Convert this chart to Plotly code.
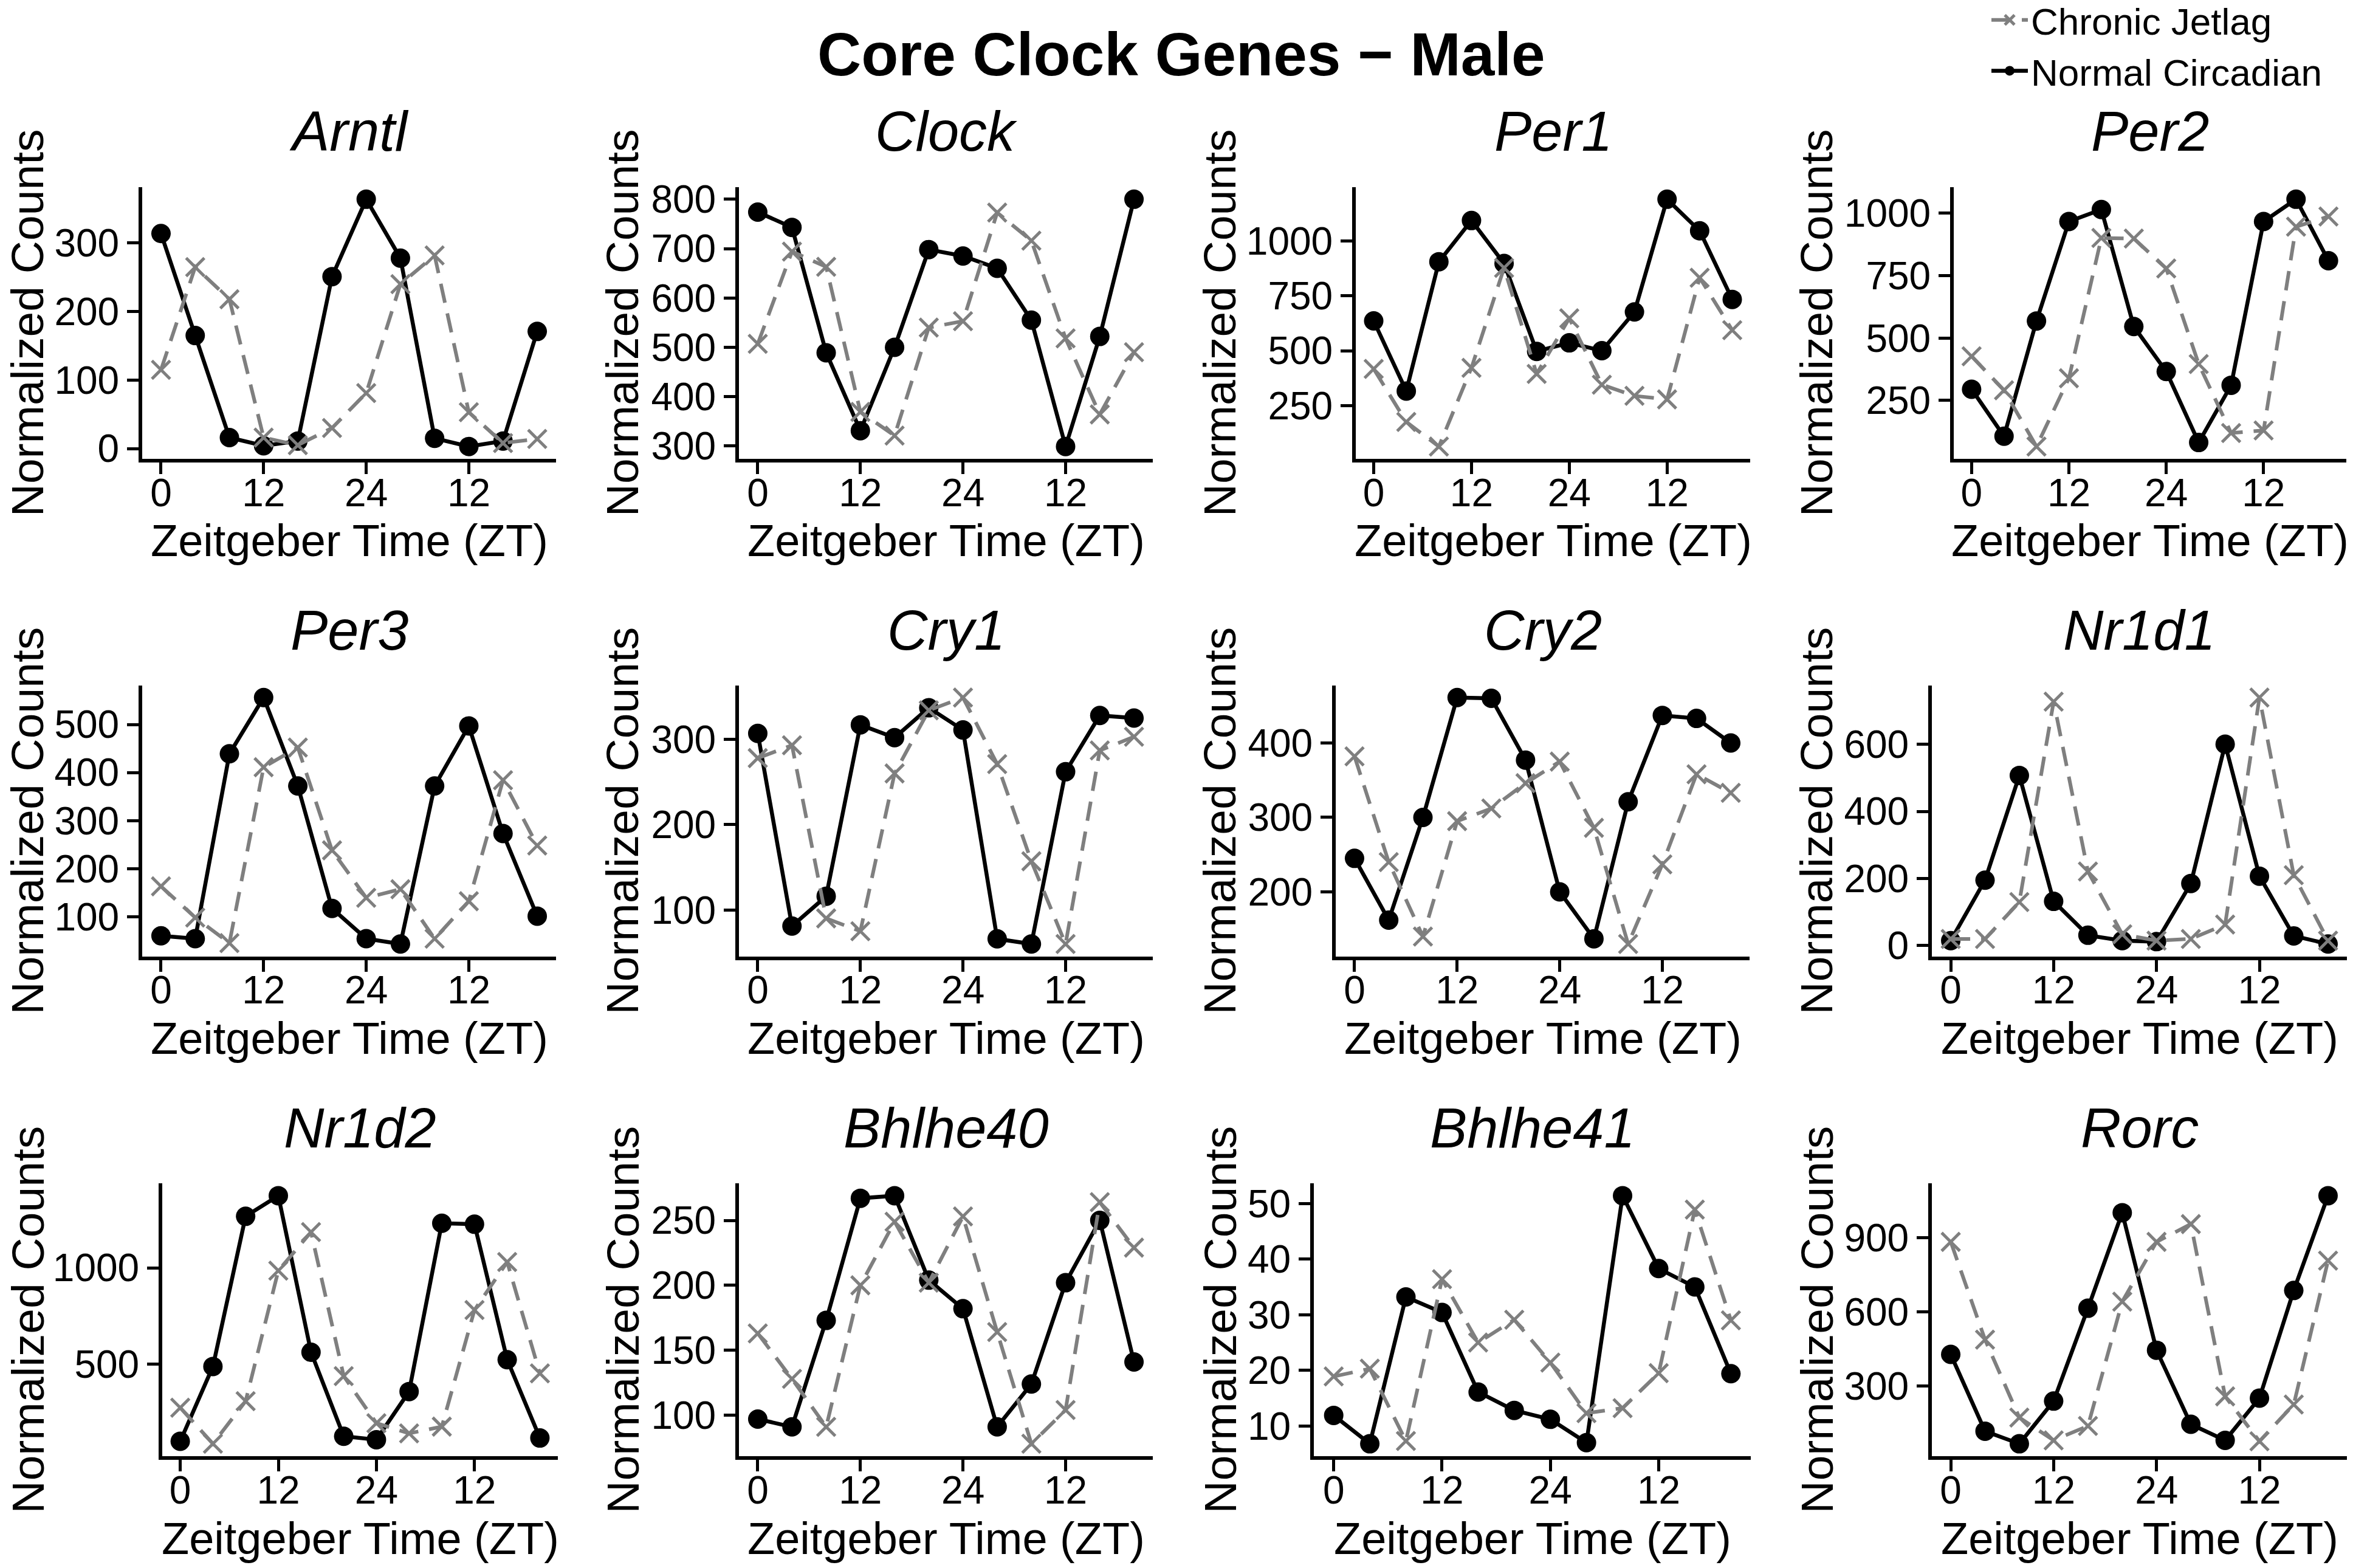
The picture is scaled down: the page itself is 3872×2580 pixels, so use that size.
import plotly.graph_objects as go

# ---------------- data ----------------
genes = ["Arntl", "Clock", "Per1", "Per2", "Per3", "Cry1", "Cry2", "Nr1d1",
         "Nr1d2", "Bhlhe40", "Bhlhe41", "Rorc"]
zt = [0, 4, 8, 12, 16, 20, 24, 28, 32, 36, 40, 44]
x_tickvals = [0, 12, 24, 36]
x_ticktext = ["0", "12", "24", "12"]

arntl_normal = [314, 165, 16, 4, 11, 251, 364, 278, 15, 3, 11, 171]
arntl_jetlag = [115, 265, 218, 16, 5, 30, 81, 240, 282, 53, 8, 14]
clock_normal = [774, 743, 489, 331, 500, 698, 685, 660, 555, 299, 522, 800]
clock_jetlag = [507, 694, 663, 369, 321, 540, 553, 773, 716, 518, 364, 490]
per1_normal = [636, 316, 906, 1094, 898, 497, 536, 500, 677, 1191, 1047, 734]
per1_jetlag = [417, 175, 63, 422, 878, 394, 648, 345, 294, 278, 833, 594]
per2_normal = [295, 107, 568, 966, 1014, 546, 366, 82, 311, 966, 1055, 809]
per2_jetlag = [427, 291, 66, 339, 900, 898, 778, 396, 120, 130, 945, 986]
per3_normal = [60, 54, 439, 556, 372, 117, 54, 43, 372, 497, 273, 101]
per3_jetlag = [163, 98, 45, 411, 452, 238, 139, 157, 54, 132, 384, 248]
cry1_normal = [307, 81, 116, 317, 302, 337, 311, 66, 60, 262, 328, 325]
cry1_jetlag = [278, 293, 90, 75, 260, 334, 349, 271, 157, 60, 287, 303]
cry2_normal = [245, 162, 300, 461, 460, 377, 200, 137, 321, 437, 433, 400]
cry2_jetlag = [382, 240, 140, 295, 312, 346, 375, 286, 130, 237, 358, 333]
nr1d1_normal = [15, 195, 507, 132, 31, 15, 12, 185, 600, 207, 29, 5]
nr1d1_jetlag = [20, 20, 130, 727, 221, 34, 15, 20, 63, 739, 210, 15]
nr1d2_normal = [100, 488, 1267, 1374, 562, 126, 108, 358, 1231, 1226, 523, 117]
nr1d2_jetlag = [274, 87, 308, 985, 1185, 438, 194, 141, 176, 781, 1030, 452]
bhlhe40_normal = [97, 91, 173, 267, 269, 204, 182, 91, 124, 202, 250, 141]
bhlhe40_jetlag = [163, 128, 91, 200, 249, 202, 253, 164, 78, 104, 264, 229]
bhlhe41_normal = [11.9, 6.8, 33.2, 30.4, 16.1, 12.8, 11.2, 7.0, 51.4, 38.3, 35.0, 19.4]
bhlhe41_jetlag = [18.9, 20.3, 7.3, 36.4, 25.0, 29.1, 21.4, 12.3, 13.2, 19.5, 48.9, 29.0]
rorc_normal = [427, 116, 65, 238, 614, 1001, 444, 144, 79, 250, 686, 1070]
rorc_jetlag = [883, 487, 171, 79, 137, 641, 883, 955, 257, 75, 224, 807]

arntl_yticks = [0, 100, 200, 300]
clock_yticks = [300, 400, 500, 600, 700, 800]
per1_yticks = [250, 500, 750, 1000]
per2_yticks = [250, 500, 750, 1000]
per3_yticks = [100, 200, 300, 400, 500]
cry1_yticks = [100, 200, 300]
cry2_yticks = [200, 300, 400]
nr1d1_yticks = [0, 200, 400, 600]
nr1d2_yticks = [500, 1000]
bhlhe40_yticks = [100, 150, 200, 250]
bhlhe41_yticks = [10, 20, 30, 40, 50]
rorc_yticks = [300, 600, 900]

normal_series = [arntl_normal, clock_normal, per1_normal, per2_normal,
                 per3_normal, cry1_normal, cry2_normal, nr1d1_normal,
                 nr1d2_normal, bhlhe40_normal, bhlhe41_normal, rorc_normal]
jetlag_series = [arntl_jetlag, clock_jetlag, per1_jetlag, per2_jetlag,
                 per3_jetlag, cry1_jetlag, cry2_jetlag, nr1d1_jetlag,
                 nr1d2_jetlag, bhlhe40_jetlag, bhlhe41_jetlag, rorc_jetlag]
yticks_all = [arntl_yticks, clock_yticks, per1_yticks, per2_yticks,
              per3_yticks, cry1_yticks, cry2_yticks, nr1d1_yticks,
              nr1d2_yticks, bhlhe40_yticks, bhlhe41_yticks, rorc_yticks]

title_text = "Core Clock Genes \u2212 Male"
xlabel = "Zeitgeber Time (ZT)"
ylabel = "Normalized Counts"
name_jet = "Chronic Jetlag"
name_norm = "Normal Circadian"

# ---------------- layout geometry (pixels) ----------------
W, H = 3872, 2580
panel_x = [(234, 915), (1216, 1897), (2231, 2880), (3215, 3861),
           (234, 915), (1216, 1897), (2198, 2879), (3179, 3862),
           (267, 918), (1216, 1897), (2162, 2881), (3179, 3862)]
row_y = [(307.5, 755), (1127.5, 1573.5), (1947, 2396)]
ytitle_x = [45, 1024, 2007, 2989]

FONT = "Liberation Sans, Arial, sans-serif"
GRAY = "#7f7f7f"

fig = go.Figure()
annotations = []
layout = {}

for i, g in enumerate(genes):
    r, c = divmod(i, 4)
    n = "" if i == 0 else str(i + 1)
    xa, ya = "x" + n, "y" + n
    x0, x1 = panel_x[i]
    ytop, ybot = row_y[r]

    fig.add_trace(go.Scatter(
        x=zt, y=normal_series[i], xaxis=xa, yaxis=ya, mode="lines+markers",
        name=name_norm, legendgroup="n", showlegend=(i == 0), legendrank=2,
        line=dict(color="black", width=6.5),
        marker=dict(symbol="circle", size=32, color="black")))
    fig.add_trace(go.Scatter(
        x=zt, y=jetlag_series[i], xaxis=xa, yaxis=ya, mode="lines+markers",
        name=name_jet, legendgroup="j", showlegend=(i == 0), legendrank=1,
        line=dict(color=GRAY, width=6, dash="32px,18px"),
        marker=dict(symbol="x-thin", size=30, color=GRAY,
                    line=dict(color=GRAY, width=5))))

    allv = normal_series[i] + jetlag_series[i]
    lo, hi = min(allv), max(allv)
    pad = 0.05 * (hi - lo)

    common = dict(showline=True, linewidth=6, linecolor="black", ticks="outside",
                  ticklen=19, tickwidth=5, tickcolor="black", showgrid=False,
                  zeroline=False, automargin=False,
                  tickfont=dict(family=FONT, size=64, color="black"))
    layout["xaxis" + n] = dict(common, domain=[x0 / W, x1 / W], anchor=ya,
                               range=[-2.2, 46.2], tickmode="array",
                               tickvals=x_tickvals, ticktext=x_ticktext,
                               ticklabelstandoff=-24)
    layout["yaxis" + n] = dict(common, domain=[1 - ybot / H, 1 - ytop / H], anchor=xa,
                               range=[lo - pad, hi + pad], tickmode="array",
                               tickvals=yticks_all[i],
                               ticktext=[str(v) for v in yticks_all[i]])

    cx = (x0 + x1) / 2 / W
    annotations.append(dict(text="<i>" + g + "</i>", x=cx, y=1 - (ytop - 91) / H,
                            xref="paper", yref="paper", showarrow=False,
                            xanchor="center", yanchor="middle",
                            font=dict(family=FONT, size=92, color="black")))
    annotations.append(dict(text=xlabel, x=cx, y=1 - (ybot + 135) / H,
                            xref="paper", yref="paper", showarrow=False,
                            xanchor="center", yanchor="middle",
                            font=dict(family=FONT, size=74, color="black")))
    annotations.append(dict(text=ylabel, x=ytitle_x[c] / W,
                            y=1 - (ytop + ybot) / 2 / H, textangle=-90,
                            xref="paper", yref="paper", showarrow=False,
                            xanchor="center", yanchor="middle",
                            font=dict(family=FONT, size=75, color="black")))

annotations.append(dict(text="<b>" + title_text + "</b>", x=1944 / W, y=1 - 89 / H,
                        xref="paper", yref="paper", showarrow=False,
                        xanchor="center", yanchor="middle",
                        font=dict(family=FONT, size=100, color="black")))

fig.update_layout(
    **layout,
    width=W, height=H, autosize=False,
    margin=dict(l=0, r=0, t=0, b=0, autoexpand=False),
    paper_bgcolor="white", plot_bgcolor="white",
    annotations=annotations,
    showlegend=True,
    legend=dict(x=3272 / W, y=1 + 14 / H, xanchor="left", yanchor="top",
                font=dict(family=FONT, size=62, color="black"),
                bgcolor="rgba(0,0,0,0)", itemwidth=60, tracegroupgap=0),
)

fig.write_html("out.html", config={"displayModeBar": False},
               post_script="document.body.style.margin='0';")
